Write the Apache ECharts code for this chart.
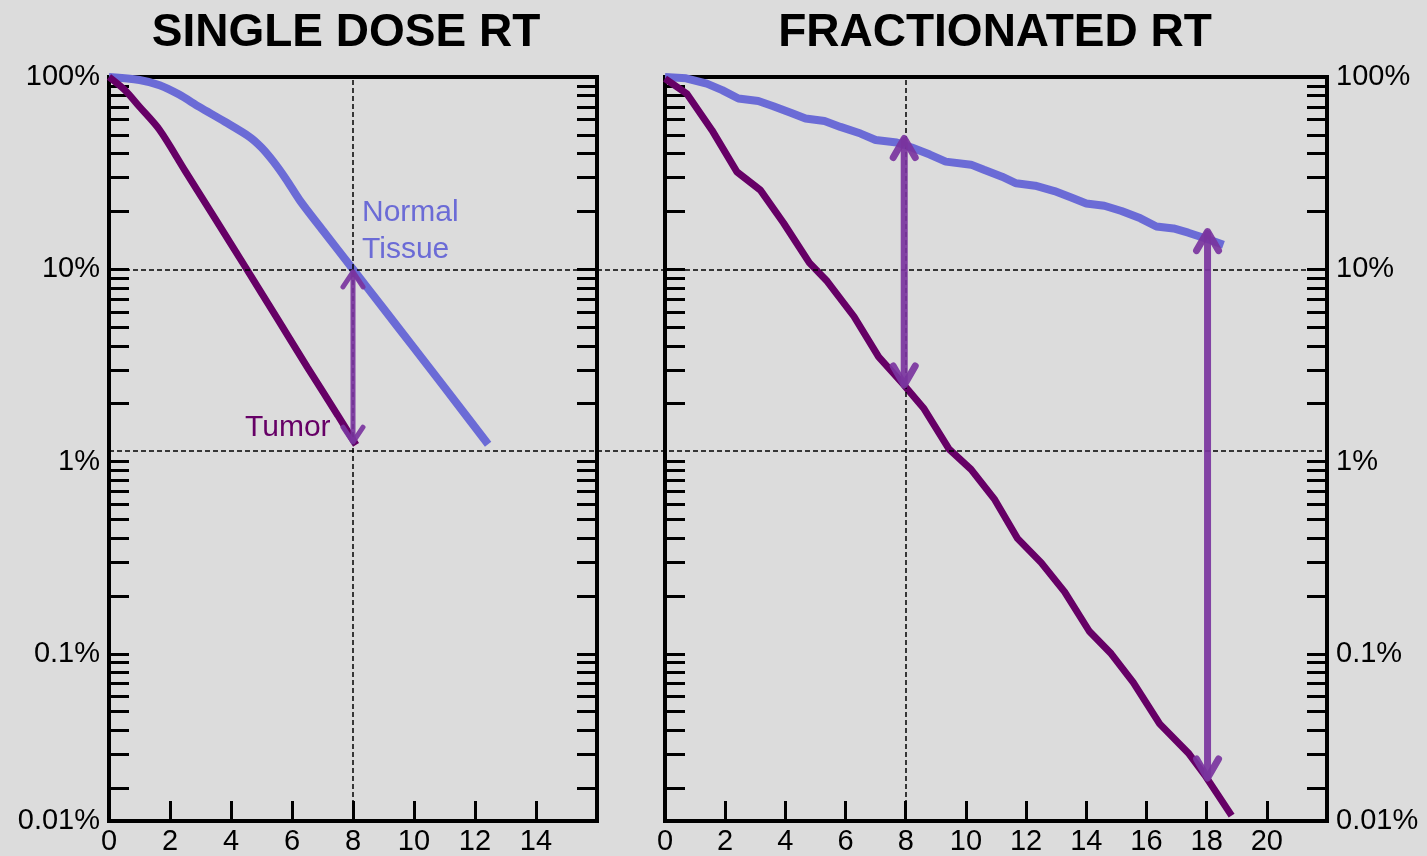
<!DOCTYPE html>
<html lang="en">
<head>
    <meta charset="UTF-8">
    <title>Single dose vs fractionated RT</title>
    <script src="https://cdn.jsdelivr.net/npm/echarts@6/dist/echarts.min.js"></script>
    <style>
        html, body { margin: 0; padding: 0; background: #dcdcdc; }
        #main { width: 1427px; height: 856px; }
    </style>
</head>
<body>
<div id="main"></div>
<script>
    // surviving fraction (%) vs dose (Gy)
    const tumorSingle = [[0, 100], [0.5, 86], [1.0, 70], [1.66, 53], [2.5, 32.4], [3.5, 18.1], [4.45, 10.4],
        [5.5, 5.6], [6.5, 3.1], [7.5, 1.74], [8.1, 1.22]];
    const normalSingle = [[0, 100], [1, 96.5], [1.66, 90.6], [2.3, 81], [2.96, 69.9], [3.8, 58.5], [4.61, 48.8],
        [5.0, 43], [5.38, 36.5], [5.8, 29.5], [6.25, 22.9], [7, 16], [8, 10], [9, 6.25], [10, 3.9], [11, 2.43], [12.43, 1.23]];
    const tumorFrac = [[0, 98], [0.72, 82], [1.56, 52.9], [2.39, 32.1], [3.17, 25.8], [3.94, 17.4], [4.8, 10.8],
        [5.39, 8.66], [6.28, 5.68], [7.1, 3.5], [7.94, 2.5], [8.61, 1.88], [9.44, 1.16], [10.17, 0.91],
        [10.94, 0.64], [11.72, 0.397], [12.5, 0.298], [13.28, 0.21], [14.1, 0.131], [14.83, 0.1],
        [15.56, 0.0711], [16.44, 0.0432], [17.39, 0.0305], [17.94, 0.0234], [18.83, 0.0144]];
    const normalFrac = [[0, 100], [0.7, 98.5], [1.39, 92.4], [1.9, 85.5], [2.44, 77.3],
        [3.1, 75], [3.6, 70.5], [4.2, 65], [4.67, 60.8],
        [5.3, 59], [5.83, 55], [6.5, 50.8], [7.0, 47],
        [7.7, 45.6], [8.2, 43], [8.8, 39.5], [9.33, 36.3],
        [10.17, 35], [10.6, 32.9], [11.2, 30.3], [11.67, 28],
        [12.3, 27.2], [12.94, 25.5], [13.5, 23.6], [14.0, 22],
        [14.6, 21.4], [15.17, 20.1], [15.8, 18.4], [16.33, 16.7],
        [16.9, 16.3], [17.39, 15.5], [18.0, 14.4], [18.56, 13.4]];

    // double arrows: [dose, top %, bottom %]
    const arrowsSingle = [[8, 9.7, 1.26]];
    const arrowsFrac = [[7.95, 47.9, 2.5], [18.03, 15.7, 0.0226]];

    const refLevels = [10, 1.15];   // horizontal dashed lines (%)
    const refDose = 8;              // vertical dashed line (Gy)

    const yMin = 0.0135;
    const yTicks = [yMin, 0.1, 1, 10, 100];
    const yTickLabels = ['0.01%', '0.1%', '1%', '10%', '100%'];

    const font = '"Liberation Sans", Arial, sans-serif';
    const tumorColor = '#660066';
    const normalColor = '#6b6bd6';
    const arrowColor = 'rgba(122,52,158,0.92)';
    const dash = {color: '#000', width: 1.5, type: [5, 3]};

    function yLabel(v) {
        let i = yTicks.findIndex(t => Math.abs(Math.log10(v / t)) < 0.05);
        return i < 0 ? '' : yTickLabels[i];
    }

    function yAxisFor(grid, pos, labels) {
        return {
            type: 'log', gridIndex: grid, position: pos, min: yMin, max: 100,
            axisLine: {show: false},
            axisTick: {show: true, inside: true, length: 20, lineStyle: {color: '#000', width: 3}},
            minorTick: {show: true, splitNumber: 9, length: 20, lineStyle: {color: '#000', width: 3}},
            splitLine: {show: false},
            axisLabel: {show: labels, formatter: yLabel, color: '#000', fontSize: 29, fontFamily: font, margin: 9}
        };
    }

    function xAxisFor(grid, max) {
        return {
            type: 'value', gridIndex: grid, min: 0, max: max, interval: 2,
            axisLine: {show: false},
            axisTick: {show: true, inside: true, length: 20, lineStyle: {color: '#000', width: 3}},
            splitLine: {show: false},
            axisLabel: {color: '#000', fontSize: 29, fontFamily: font, margin: 6, showMaxLabel: false}
        };
    }

    function makeArrow(width, hw, hh) {
        return function (params, api) {
            let top = api.coord([api.value(0), api.value(1)]);
            let bot = api.coord([api.value(0), api.value(2)]);
            let st = {stroke: arrowColor, lineWidth: width, lineCap: 'round', lineJoin: 'round', fill: 'none'};
            return {
                type: 'group',
                children: [
                    {type: 'line', shape: {x1: top[0], y1: top[1] + 2, x2: bot[0], y2: bot[1] - 2}, style: st},
                    {type: 'polyline', shape: {points: [[top[0] - hw, top[1] + hh], top, [top[0] + hw, top[1] + hh]]}, style: st},
                    {type: 'polyline', shape: {points: [[bot[0] - hw, bot[1] - hh], bot, [bot[0] + hw, bot[1] - hh]]}, style: st}
                ]
            };
        };
    }

    let myChart = echarts.init(document.getElementById('main'));

    let option = {
        backgroundColor: '#dcdcdc',
        animation: false,
        grid: [
            {left: 109, top: 77, width: 488, height: 746, show: true, borderColor: '#000', borderWidth: 4},
            {left: 665, top: 77, width: 662, height: 746, show: true, borderColor: '#000', borderWidth: 4},
            {left: 109, top: 77, width: 1218, height: 746, show: false}
        ],
        xAxis: [
            xAxisFor(0, 16),
            xAxisFor(1, 22),
            {type: 'value', gridIndex: 2, min: 0, max: 1, show: false}
        ],
        yAxis: [
            yAxisFor(0, 'left', true),
            yAxisFor(0, 'right', false),
            yAxisFor(1, 'left', false),
            yAxisFor(1, 'right', true),
            {type: 'log', gridIndex: 2, min: yMin, max: 100, show: false}
        ],
        graphic: [
            {type: 'text', x: 346, y: 33, style: {text: 'SINGLE DOSE RT', font: 'bold 46px ' + font, fill: '#000', textAlign: 'center', textVerticalAlign: 'middle'}},
            {type: 'text', x: 995, y: 33, style: {text: 'FRACTIONATED RT', font: 'bold 46px ' + font, fill: '#000', textAlign: 'center', textVerticalAlign: 'middle'}},
            {type: 'text', x: 362, y: 231, style: {text: 'Normal\nTissue', font: '30px ' + font, lineHeight: 37, fill: normalColor, textAlign: 'left', textVerticalAlign: 'middle'}},
            {type: 'text', x: 245, y: 428, style: {text: 'Tumor', font: '30px ' + font, fill: tumorColor, textAlign: 'left', textVerticalAlign: 'middle'}}
        ],
        series: [
            {
                type: 'line', xAxisIndex: 2, yAxisIndex: 4, data: [], silent: true,
                markLine: {silent: true, symbol: 'none', label: {show: false}, lineStyle: dash,
                    data: refLevels.map(v => ({yAxis: v}))}
            },
            {
                name: 'Normal Tissue', type: 'line', xAxisIndex: 0, yAxisIndex: 0, data: normalSingle,
                smooth: 0.3, showSymbol: false, lineStyle: {color: normalColor, width: 8}
            },
            {
                name: 'Tumor', type: 'line', xAxisIndex: 0, yAxisIndex: 0, data: tumorSingle,
                smooth: 0.3, showSymbol: false, lineStyle: {color: tumorColor, width: 7},
                markLine: {silent: true, symbol: 'none', label: {show: false}, lineStyle: dash,
                    data: [{xAxis: refDose}]}
            },
            {
                name: 'Normal Tissue', type: 'line', xAxisIndex: 1, yAxisIndex: 2, data: normalFrac,
                showSymbol: false, lineStyle: {color: normalColor, width: 8}
            },
            {
                name: 'Tumor', type: 'line', xAxisIndex: 1, yAxisIndex: 2, data: tumorFrac,
                showSymbol: false, lineStyle: {color: tumorColor, width: 7},
                markLine: {silent: true, symbol: 'none', label: {show: false}, lineStyle: dash,
                    data: [{xAxis: refDose}]}
            },
            {
                type: 'custom', xAxisIndex: 0, yAxisIndex: 0, data: arrowsSingle,
                renderItem: makeArrow(5, 10, 15), z: 5
            },
            {
                type: 'custom', xAxisIndex: 1, yAxisIndex: 2, data: arrowsFrac,
                renderItem: makeArrow(7, 11, 19), z: 5
            }
        ]
    };
    myChart.setOption(option);
</script>
</body>
</html>
